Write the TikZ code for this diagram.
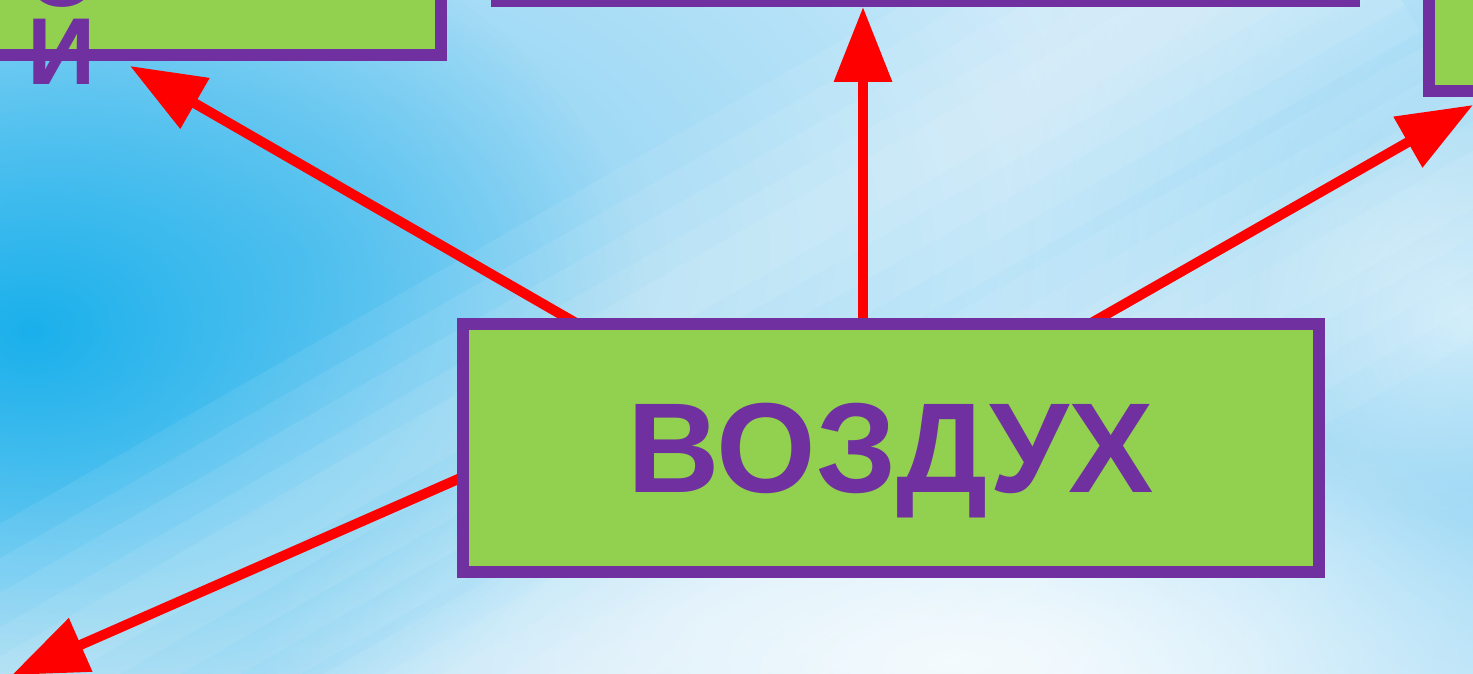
\documentclass[tikz,border=0pt]{standalone}
\usepackage{fontspec}
\setmainfont{Liberation Sans}
\usepackage{tikz}
\usetikzlibrary{arrows.meta,fadings}
\definecolor{vert}{HTML}{92D050}
\definecolor{mauve}{HTML}{7030A0}
\definecolor{rouge}{HTML}{FF0000}
\definecolor{cielfonce}{HTML}{1AB0EB}
\definecolor{ciel}{HTML}{86D0F3}
\definecolor{cielclair}{HTML}{DDF1FC}
\tikzfading[name=nuage, inner color=transparent!0, outer color=transparent!100]
\pgfdeclarelayer{fond}
\pgfdeclarelayer{liens}
\pgfsetlayers{fond,liens,main}
\tikzset{
	cadre/.style={draw=mauve, fill=vert, line width=12pt, inner sep=0pt},
	fleche/.style={draw=rouge, line width=10pt, -{Triangle[length=75pt,width=56pt]}},
	grand/.style={font=\fontsize{128}{128}\selectfont\bfseries, text=mauve}
}
\begin{document}
\begin{tikzpicture}[x=1pt,y=-1pt]
	\useasboundingbox (0,0) rectangle (1473,674);
	\begin{pgfonlayer}{fond}
		\fill[cielclair] (0,0) rectangle (1473,674);
		\fill[ciel, path fading=nuage] (300,250) ellipse (1100 and 760);
		\fill[cielfonce, path fading=nuage] (30,330) ellipse (620 and 460);
		\fill[ciel, path fading=nuage] (1500,330) ellipse (500 and 700);
		\foreach \e in {280,220,160,100,50} {
			\draw[white, line width=\e pt, opacity=0.08] (-200,800) -- (1350,-90);
			\draw[white, line width=\e pt, opacity=0.07] (350,820) -- (1700,50);
		}
		\fill[white, path fading=nuage, opacity=0.8] (950,660) ellipse (700 and 260);
		\fill[white, path fading=nuage, opacity=0.6] (1470,320) ellipse (220 and 200);
	\end{pgfonlayer}
	\node[cadre, minimum width=600pt, minimum height=300pt] (gauche) at (141,-95) {};
	\node[cadre, minimum width=857pt, minimum height=300pt] (haut) at (925.5,-149) {};
	\node[cadre, minimum width=600pt, minimum height=300pt] (droite) at (1729,-59) {};
	\node[grand, font=\fontsize{95}{78}\selectfont\bfseries, align=center, anchor=south, inner sep=0pt] (lettres) at (62,85) {О\\И};
	\node[cadre, grand, minimum width=856pt, minimum height=248pt, text depth=0pt] (air) at (891,448) {ВОЗДУХ};
	\coordinate (d1) at (602,338);
	\coordinate (f1) at (130,66);
	\coordinate (d2) at (863,340);
	\coordinate (f2) at (863,7);
	\coordinate (d3) at (1065,338);
	\coordinate (f3) at (1473,105);
	\coordinate (d4) at (497,462);
	\coordinate (f4) at (12,675);
	\begin{pgfonlayer}{liens}
		\draw[fleche] (d1) -- (f1);
		\draw[fleche] (d2) -- (f2);
		\draw[fleche] (d3) -- (f3);
		\draw[fleche] (d4) -- (f4);
	\end{pgfonlayer}
\end{tikzpicture}
\end{document}
